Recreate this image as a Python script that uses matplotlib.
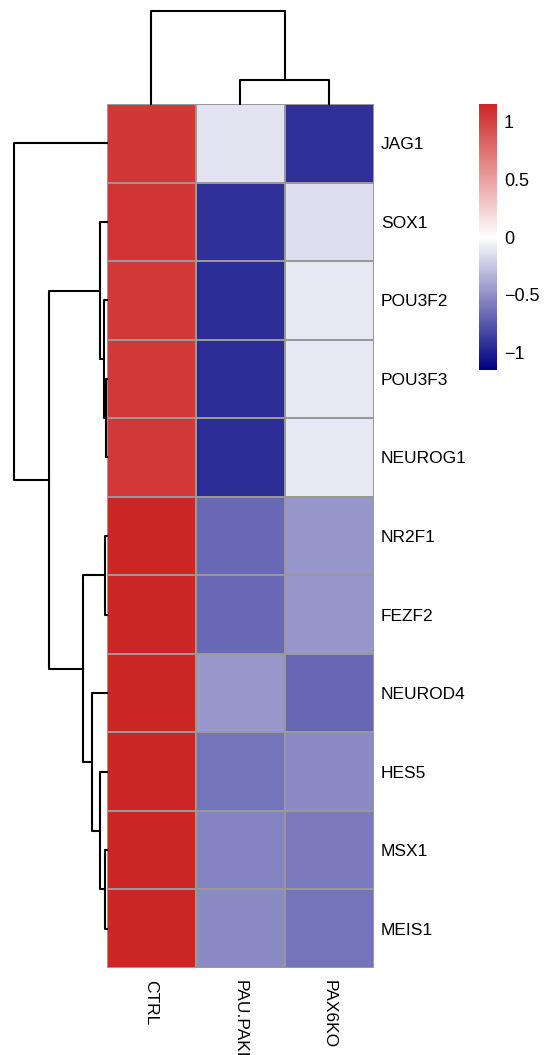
import numpy as np
import matplotlib
matplotlib.use("Agg")
import matplotlib.pyplot as plt
from matplotlib.colors import LinearSegmentedColormap

plt.rcParams['font.family'] = ['Liberation Sans', 'DejaVu Sans']

# row-scaled expression values (z-scores)
genes = ["JAG1", "SOX1", "POU3F2", "POU3F3", "NEUROG1", "NR2F1",
         "FEZF2", "NEUROD4", "HES5", "MSX1", "MEIS1"]
samples = ["CTRL", "PAU.PAKI", "PAX6KO"]
ctrl = [1.06, 1.07, 1.05, 1.05, 1.05, 1.15, 1.15, 1.15, 1.15, 1.15, 1.15]
pau = [-0.13, -0.93, -0.95, -0.95, -0.95, -0.68, -0.68, -0.46, -0.62, -0.55, -0.53]
pax6ko = [-0.93, -0.15, -0.10, -0.10, -0.10, -0.47, -0.47, -0.69, -0.53, -0.60, -0.62]

# linkage tables (left, right, height); leaves 0..n-1, merge k -> n+k
row_links = [(3, 4, 0.005), (2, 11, 0.022), (1, 12, 0.065),
             (5, 6, 0.011), (9, 10, 0.011), (8, 15, 0.065),
             (7, 16, 0.152), (14, 17, 0.25), (13, 18, 0.62), (0, 19, 1.0)]
col_links = [(1, 2, 0.26), (0, 3, 1.0)]

cbar_ticks = [-1, -0.5, 0, 0.5, 1]

data = np.array([ctrl, pau, pax6ko]).T
vmax = np.abs(data).max()

cmap = LinearSegmentedColormap.from_list("nwr", ["#000080", "#FFFFFF", "#CD2626"])


def link_segments(links, n):
    pos = {i: i + 0.5 for i in range(n)}
    hgt = {i: 0.0 for i in range(n)}
    segs = []
    for k, (a, b, h) in enumerate(links):
        segs.append(([hgt[a], h, h, hgt[b]], [pos[a], pos[a], pos[b], pos[b]]))
        pos[n + k] = (pos[a] + pos[b]) / 2
        hgt[n + k] = h
    return segs


W, H = 544, 1055
fig = plt.figure(figsize=(W / 100, H / 100), dpi=100)


def px_axes(x0, y0, x1, y1):
    return fig.add_axes([x0 / W, 1 - y1 / H, (x1 - x0) / W, (y1 - y0) / H])


hx0, hx1, hy0, hy1 = 106.5, 374, 104, 968

# heatmap
ax = px_axes(hx0, hy0, hx1, hy1)
ax.pcolormesh(data, cmap=cmap, vmin=-vmax, vmax=vmax,
              edgecolor="#999999", linewidth=1.2)
ax.set_xlim(0, len(samples))
ax.set_ylim(len(genes), 0)
ax.set_xticks(np.arange(len(samples)) + 0.5)
ax.set_xticklabels(samples, rotation=270, fontsize=12.5, va="top", ha="center")
ax.set_yticks(np.arange(len(genes)) + 0.5)
ax.set_yticklabels(genes, fontsize=12.5)
ax.yaxis.tick_right()
ax.tick_params(length=0, pad=5)
ax.tick_params(axis="x", pad=9)
for s in ax.spines.values():
    s.set_visible(False)

# row dendrogram
axr = px_axes(14, hy0, hx0, hy1)
for hs, ps in link_segments(row_links, len(genes)):
    axr.plot(hs, ps, color="black", linewidth=1.5, clip_on=False)
axr.set_xlim(1.0, 0)
axr.set_ylim(len(genes), 0)
axr.axis("off")

# column dendrogram
axc = px_axes(hx0, 11, hx1, hy0)
for hs, ps in link_segments(col_links, len(samples)):
    axc.plot(ps, hs, color="black", linewidth=1.5, clip_on=False)
axc.set_ylim(0, 1.0)
axc.set_xlim(0, len(samples))
axc.axis("off")

# colour key
axk = px_axes(479, 104, 497, 370)
grad = np.linspace(-vmax, vmax, 256).reshape(-1, 1)
axk.imshow(grad, cmap=cmap, vmin=-vmax, vmax=vmax, aspect="auto",
           origin="lower", extent=[0, 1, -vmax, vmax])
axk.set_xticks([])
axk.yaxis.tick_right()
axk.set_yticks(cbar_ticks)
axk.set_yticklabels([("%g" % t).replace("-", "\u2212") for t in cbar_ticks], fontsize=13)
axk.tick_params(length=0, pad=5)
for s in axk.spines.values():
    s.set_visible(False)

fig.savefig("out.png", dpi=100)
